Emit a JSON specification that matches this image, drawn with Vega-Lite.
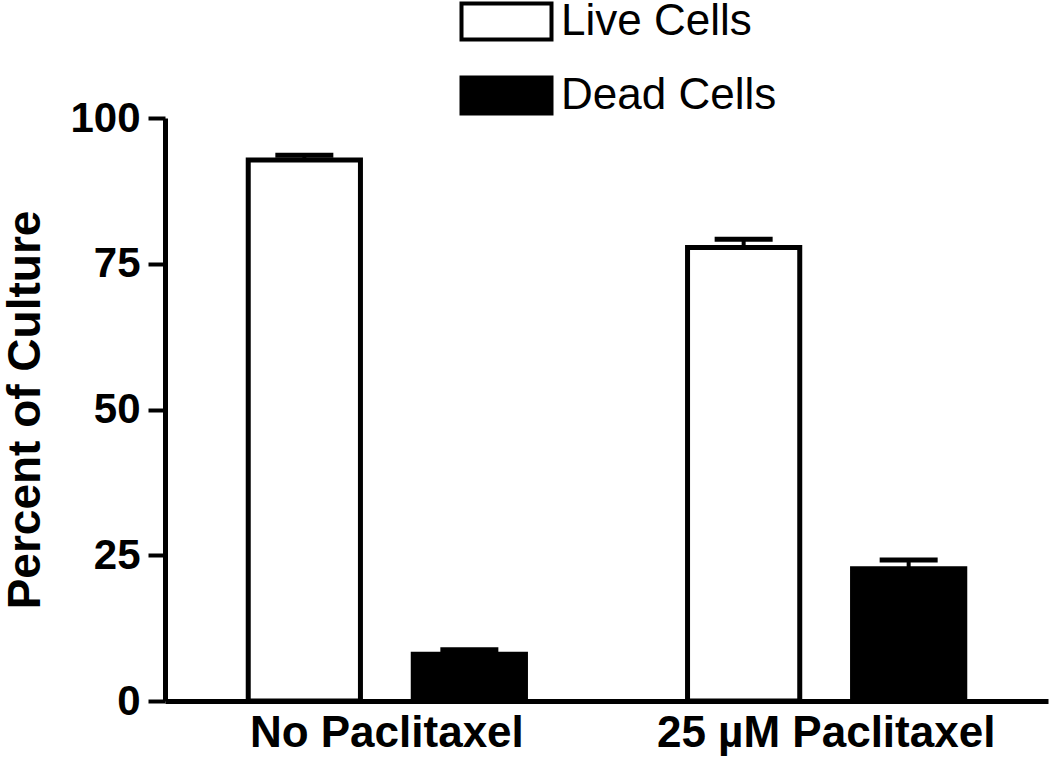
{
  "$schema": "https://vega.github.io/schema/vega-lite/v6.json",
  "width": 883,
  "height": 583,
  "autosize": {"type": "none"},
  "padding": {"left": 165, "top": 118, "right": 2, "bottom": 63},
  "background": "white",
  "config": {
    "font": "Liberation Sans",
    "view": {"stroke": null},
    "axis": {"grid": false, "domainColor": "black", "tickColor": "black", "labelColor": "black", "titleColor": "black", "labelFont": "Liberation Sans", "titleFont": "Liberation Sans", "labelLimit": 0, "titleLimit": 0}
  },
  "data": {
    "values": [
      {"group": "No Paclitaxel", "cell": "Live Cells", "value": 92.8, "upper": 93.6},
      {"group": "No Paclitaxel", "cell": "Dead Cells", "value": 8.0, "upper": 8.8},
      {"group": "25 µM Paclitaxel", "cell": "Live Cells", "value": 77.8, "upper": 79.2},
      {"group": "25 µM Paclitaxel", "cell": "Dead Cells", "value": 22.7, "upper": 24.2}
    ]
  },
  "encoding": {
    "x": {
      "field": "group",
      "type": "nominal",
      "sort": ["No Paclitaxel", "25 µM Paclitaxel"],
      "scale": {"paddingInner": 0.1, "paddingOuter": 0.055},
      "axis": {"title": null, "labelAngle": 0, "ticks": false, "domainWidth": 5, "labelFontSize": 44, "labelFontWeight": "bold", "labelPadding": 10, "labelLimit": 0}
    },
    "xOffset": {
      "field": "cell",
      "type": "nominal",
      "sort": ["Live Cells", "Dead Cells"],
      "scale": {"paddingInner": 0.32, "paddingOuter": 0.358}
    }
  },
  "layer": [
    {
      "mark": {"type": "bar", "stroke": "black", "strokeWidth": 5},
      "encoding": {
        "y": {
          "field": "value",
          "type": "quantitative",
          "scale": {"domain": [0, 100], "nice": false},
          "axis": {"title": "Percent of Culture", "values": [0, 25, 50, 75, 100], "domainWidth": 5, "tickWidth": 4, "tickSize": 17, "labelFontSize": 42, "labelFontWeight": "bold", "labelPadding": 8, "titleFontSize": 46, "titleFontWeight": "bold", "titlePadding": 20}
        },
        "color": {
          "field": "cell",
          "type": "nominal",
          "scale": {"domain": ["Live Cells", "Dead Cells"], "range": ["white", "black"]},
          "legend": {
            "title": null,
            "orient": "none",
            "legendX": 317,
            "legendY": -121,
            "padding": 0,
            "symbolType": "M-2,-0.8H2V0.8H-2Z",
            "symbolSize": 2025,
            "symbolStrokeColor": "black",
            "symbolStrokeWidth": 4,
            "labelFontSize": 44,
            "labelFont": "Liberation Sans",
            "labelColor": "black",
            "labelOffset": 30,
            "labelLimit": 0,
            "rowPadding": 21
          }
        }
      }
    },
    {
      "mark": {"type": "rule", "color": "black", "strokeWidth": 4},
      "encoding": {
        "y": {"field": "value", "type": "quantitative"},
        "y2": {"field": "upper"}
      }
    },
    {
      "mark": {"type": "tick", "color": "black", "opacity": 1, "size": 58, "thickness": 5, "orient": "horizontal"},
      "encoding": {
        "y": {"field": "upper", "type": "quantitative"}
      }
    }
  ]
}
